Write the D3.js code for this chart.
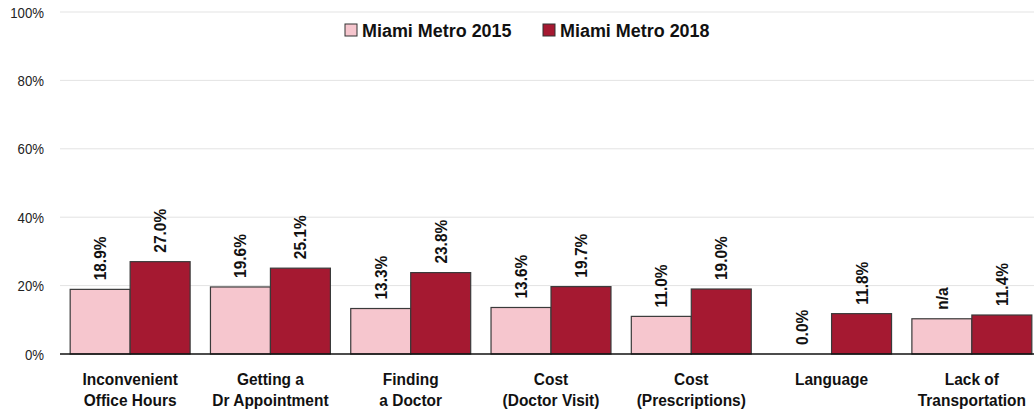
<!DOCTYPE html>
<html>
<head>
<meta charset="utf-8">
<script src="https://cdn.jsdelivr.net/npm/d3@7"></script>
<style>
  html, body { margin: 0; padding: 0; background: #fff; }
  svg { display: block; font-family: "Liberation Sans", Arial, sans-serif; }
</style>
</head>
<body>
<svg id="chart" width="1034" height="414"></svg>
<script>
// Barriers to getting care, Miami Metro survey waves
const categories = [
  ["Inconvenient", "Office Hours"],
  ["Getting a", "Dr Appointment"],
  ["Finding", "a Doctor"],
  ["Cost", "(Doctor Visit)"],
  ["Cost", "(Prescriptions)"],
  ["Language"],
  ["Lack of", "Transportation"]
];
const seriesNames = ["Miami Metro 2015", "Miami Metro 2018"];
const values2015 = [18.9, 19.6, 13.3, 13.6, 11.0, 0.0, 10.3];
const labels2015 = ["18.9%", "19.6%", "13.3%", "13.6%", "11.0%", "0.0%", "n/a"];
const values2018 = [27.0, 25.1, 23.8, 19.7, 19.0, 11.8, 11.4];
const labels2018 = ["27.0%", "25.1%", "23.8%", "19.7%", "19.0%", "11.8%", "11.4%"];
const yTicks = [0, 20, 40, 60, 80, 100];
const colors = ["#f6c6ce", "#a51931"];

const svg = d3.select("#chart");
const W = 1034;
const plotLeft = 60, plotTop = 12, plotBottom = 354;
const squeeze = 0.91; // condensed lettering

const x0 = d3.scaleBand()
  .domain(d3.range(categories.length))
  .range([plotLeft, 1042])
  .paddingInner(0.145)
  .paddingOuter(0.0725);
const x1 = d3.scaleBand().domain([0, 1]).range([0, x0.bandwidth()]).padding(0);
const y = d3.scaleLinear().domain([0, 100]).range([plotBottom, plotTop]);

// Gridlines
svg.append("g")
  .selectAll("line")
  .data(yTicks.filter(d => d > 0))
  .join("line")
  .attr("x1", plotLeft).attr("x2", W)
  .attr("y1", d => y(d)).attr("y2", d => y(d))
  .attr("stroke", "#e3e3e3").attr("stroke-width", 1);

// Y axis labels
const yAxis = d3.axisLeft(y).tickValues(yTicks).tickFormat(d => d + "%").tickSize(0).tickPadding(16);
const yg = svg.append("g").attr("transform", `translate(${plotLeft},0)`).call(yAxis);
yg.select(".domain").remove();
yg.selectAll(".tick text")
  .attr("font-size", "14.5px").attr("fill", "#222")
  .attr("font-family", "'Liberation Sans', Arial, sans-serif")
  .attr("x", null).attr("dy", null)
  .attr("transform", `translate(-16,5) scale(${squeeze},1)`);

// Bars and value labels
const series = [
  { vals: values2015, labels: labels2015 },
  { vals: values2018, labels: labels2018 }
];
series.forEach((s, si) => {
  const g = svg.append("g");
  g.selectAll("rect")
    .data(s.vals)
    .join("rect")
    .attr("x", (d, i) => x0(i) + x1(si))
    .attr("y", d => y(d))
    .attr("width", x1.bandwidth())
    .attr("height", d => plotBottom - y(d))
    .attr("fill", colors[si])
    .attr("stroke", d => d > 0 ? "#3a3a3a" : "none")
    .attr("stroke-width", 1.2);

  g.selectAll("text")
    .data(s.vals)
    .join("text")
    .attr("transform", (d, i) => {
      const cx = x0(i) + x1(si) + x1.bandwidth() / 2;
      return `translate(${cx + 6},${y(d) - 9}) rotate(-90) scale(${squeeze},1)`;
    })
    .attr("font-size", "17px")
    .attr("font-weight", "bold")
    .attr("fill", "#111")
    .text((d, i) => s.labels[i]);
});

// Baseline
svg.append("line")
  .attr("x1", plotLeft).attr("x2", W)
  .attr("y1", plotBottom).attr("y2", plotBottom)
  .attr("stroke", "#111").attr("stroke-width", 1.3);

// Category labels
const xg = svg.append("g");
categories.forEach((lines, i) => {
  const cx = x0(i) + x0.bandwidth() / 2;
  lines.forEach((ln, k) => {
    xg.append("text")
      .attr("transform", `translate(${cx},${385 + k * 21}) scale(${squeeze},1)`)
      .attr("text-anchor", "middle")
      .attr("font-size", "17px")
      .attr("font-weight", "bold")
      .attr("fill", "#111")
      .text(ln);
  });
});

// Legend
const legend = svg.append("g");
const legendX = [345, 543];
seriesNames.forEach((name, i) => {
  legend.append("rect")
    .attr("x", legendX[i]).attr("y", 24)
    .attr("width", 12).attr("height", 12)
    .attr("fill", colors[i]).attr("stroke", "#333").attr("stroke-width", 1);
  legend.append("text")
    .attr("transform", `translate(${legendX[i] + 17},37) scale(0.97,1)`)
    .attr("font-size", "18.5px").attr("font-weight", "bold").attr("fill", "#111")
    .text(name);
});
</script>
</body>
</html>
